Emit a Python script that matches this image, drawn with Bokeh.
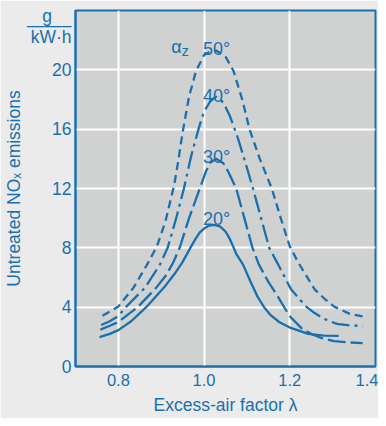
from bokeh.plotting import figure
from bokeh.models import Label, FixedTicker
from bokeh.embed import file_html
from bokeh.resources import INLINE

# ---- data ----
lam_20 = [0.756, 0.78, 0.80, 0.83, 0.865, 0.91, 0.93, 0.949, 0.968, 0.98, 0.99, 1.00, 1.012,
          1.024, 1.037, 1.05, 1.06, 1.067, 1.075, 1.091, 1.108, 1.124, 1.14, 1.154, 1.175,
          1.199, 1.243, 1.28, 1.314]
nox_20 = [1.98, 2.2, 2.45, 3.05, 4.0, 5.45, 6.2, 7.0, 8.0, 8.6, 9.05, 9.3, 9.5,
          9.55, 9.45, 9.1, 8.6, 8.15, 7.6, 6.87, 5.75, 4.75, 4.0, 3.5, 3.0,
          2.64, 2.2, 2.08, 2.07]

lam_30 = [0.758, 0.78, 0.80, 0.82, 0.845, 0.888, 0.91, 0.927, 0.943, 0.965, 0.99, 1.005, 1.015,
          1.028, 1.045, 1.057, 1.075, 1.094, 1.113, 1.128, 1.15, 1.169, 1.199, 1.229, 1.25,
          1.273, 1.303, 1.34, 1.37]
nox_30 = [2.49, 2.75, 3.0, 3.45, 4.0, 5.3, 6.1, 6.95, 8.0, 10.0, 12.0, 13.2, 13.75,
          14.0, 13.7, 13.1, 12.0, 10.0, 8.0, 6.87, 5.7, 4.87, 3.42, 2.53, 2.2,
          1.93, 1.71, 1.62, 1.58]

lam_40 = [0.76, 0.78, 0.80, 0.817, 0.862, 0.897, 0.915, 0.935, 0.953, 0.97, 0.987, 1.00, 1.015,
          1.028, 1.045, 1.06, 1.069, 1.08, 1.10, 1.114, 1.133, 1.152, 1.173, 1.203, 1.236,
          1.258, 1.281, 1.31, 1.34, 1.37]
nox_40 = [2.8, 3.05, 3.4, 4.0, 5.3, 6.87, 8.0, 10.0, 12.0, 14.2, 16.0, 17.2, 17.9,
          18.2, 17.8, 16.9, 16.2, 15.3, 13.4, 12.0, 10.0, 8.0, 6.87, 5.2, 4.09,
          3.6, 3.2, 2.87, 2.77, 2.73]

lam_50 = [0.763, 0.78, 0.80, 0.835, 0.867, 0.89, 0.91, 0.93, 0.94, 0.95, 0.965, 0.981, 1.00,
          1.015, 1.028, 1.05, 1.069, 1.09, 1.106, 1.13, 1.158, 1.18, 1.20, 1.22, 1.258,
          1.28, 1.303, 1.34, 1.37]
nox_50 = [3.42, 3.7, 4.05, 5.3, 6.87, 8.1, 9.8, 12.2, 13.9, 15.8, 18.2, 19.9, 21.0,
          21.25, 21.3, 20.9, 19.9, 17.9, 16.0, 14.0, 12.0, 9.9, 8.1, 7.0, 5.2,
          4.6, 4.05, 3.55, 3.38]

series_lam = [lam_20, lam_30, lam_40, lam_50]
series_nox = [nox_20, nox_30, nox_40, nox_50]
series_labels = ["20°", "30°", "40°", "50°"]

x_ticks = [0.8, 1.0, 1.2, 1.4]
x_tick_labels = ["0.8", "1.0", "1.2", "1.4"]
y_ticks = [0, 4, 8, 12, 16, 20]
y_tick_labels = ["0", "4", "8", "12", "16", "20"]
# unit of the y axis, written in the tick-label column above "20"
unit_ticks = [22.19, 23.02, 23.66]
unit_labels = ["kW·h", "\u2014\u2014\u2013", "g\u00a0\u00a0\u00a0\u00a0"]

x_title = "Excess-air factor λ"
y_title = "Untreated NO\u2093 emissions"

# ---- style ----
BLUE = "#1a70ad"
FONT = "Liberation Sans"
dashes = ["solid", "18 5", "18 5 3 5", "8 5"]
label_pos = [(0.9974, 9.945), (0.9974, 14.12), (0.9974, 18.23), (0.9974, 21.41)]

p = figure(width=378, height=418, x_range=(0.7, 1.4), y_range=(0, 24),
           output_backend="svg", toolbar_location=None,
           min_border_left=68, min_border_right=3, min_border_top=10, min_border_bottom=52,
           background_fill_color="#d0d1d1", border_fill_color="#ebebeb")
p.outline_line_color = BLUE
p.outline_line_width = 2

for ax in (p.xaxis, p.yaxis):
    ax.axis_line_color = BLUE
    ax.axis_line_width = 2
    ax.major_tick_out = 0
    ax.major_tick_in = 0
    ax.minor_tick_out = 0
    ax.minor_tick_in = 0
    ax.major_label_text_color = BLUE
    ax.major_label_text_font = FONT
    ax.axis_label_text_color = BLUE
    ax.axis_label_text_font = FONT
    ax.axis_label_text_font_style = "normal"

p.xaxis.ticker = FixedTicker(ticks=x_ticks)
p.xaxis.major_label_overrides = dict(zip(x_ticks, x_tick_labels))
p.xaxis.major_label_text_font_size = "16.5px"
p.xaxis.major_label_standoff = 7
p.xaxis.axis_label = x_title
p.xaxis.axis_label_text_font_size = "17.5px"
p.xaxis.axis_label_standoff = 6

p.yaxis.ticker = FixedTicker(ticks=y_ticks + unit_ticks)
p.yaxis.major_label_overrides = dict(zip(y_ticks + unit_ticks, y_tick_labels + unit_labels))
p.yaxis.major_label_text_font_size = "17.5px"
p.yaxis.major_label_standoff = 4
p.yaxis.axis_label = y_title
p.yaxis.axis_label_text_font_size = "17.5px"
p.yaxis.axis_label_standoff = 0

p.xgrid.ticker = FixedTicker(ticks=x_ticks)
p.ygrid.ticker = FixedTicker(ticks=y_ticks)
for g in (p.xgrid, p.ygrid):
    g.grid_line_color = "white"
    g.grid_line_width = 2

for lam, nox, dash in zip(series_lam, series_nox, dashes):
    p.line(lam, nox, line_color=BLUE, line_width=2.3, line_dash=dash)

def lab(x, y, text, size="18px"):
    p.add_layout(Label(x=x, y=y, text=text, text_color=BLUE, text_font=FONT,
                       text_font_size=size, text_align="left",
                       text_baseline="alphabetic"))

for (lx, ly), t in zip(label_pos, series_labels):
    lab(lx, ly, t)
lab(0.9237, 21.53, "α")
lab(0.9482, 21.24, "z", size="14px")

open("out.html", "w").write(file_html(p, INLINE))
